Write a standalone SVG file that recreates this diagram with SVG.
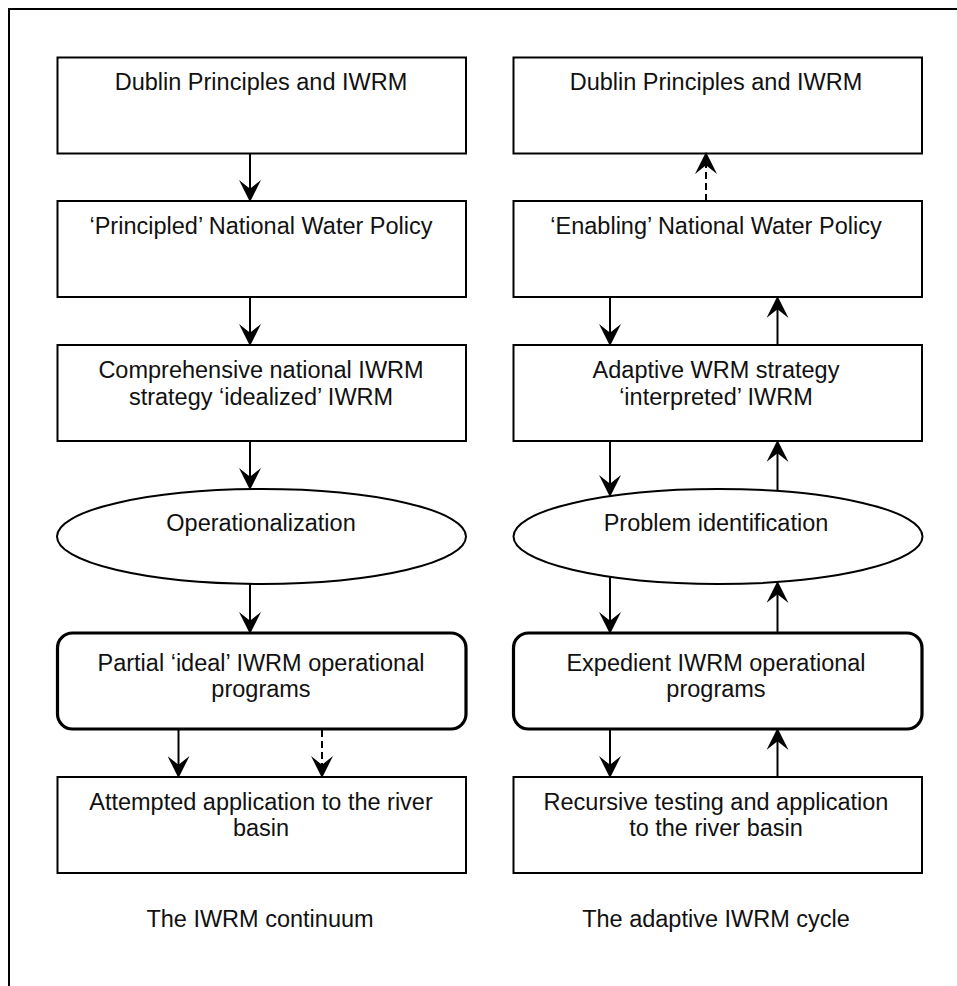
<svg xmlns="http://www.w3.org/2000/svg" width="957" height="986" viewBox="0 0 957 986">
  <style>
    .frame { fill: none; stroke: #000; stroke-width: 2; }
    .box { fill: #fff; stroke: #000; stroke-width: 2; }
    .prog { fill: #fff; stroke: #000; stroke-width: 3.2; }
    .oval { fill: #fff; stroke: #000; stroke-width: 2; }
    text { font-family: "Liberation Sans", Arial, sans-serif; font-size: 23.5px; fill: #111; text-anchor: middle; }
    .flow { stroke: #000; stroke-width: 2; fill: none; marker-end: url(#head); }
    .dash { stroke-dasharray: 7 4; }
  </style>
  <defs>
    <marker id="head" markerUnits="userSpaceOnUse" markerWidth="22" markerHeight="22" viewBox="0 0 20 20" refX="10" refY="10" orient="auto">
      <path d="M0,0 L20,10 L0,20 L8,10 Z" fill="#000" stroke="none"/>
    </marker>
  </defs>

  <rect width="957" height="986" fill="#fff"/>
  <!-- page frame (open to the right and bottom edges) -->
  <rect class="frame" x="9" y="9" width="1000" height="1000"/>

  <!-- left column: the continuum -->
  <g id="l-dublin">
    <rect class="box" x="57.5" y="57.5" width="408.5" height="96"/>
    <text x="261" y="89.5">Dublin Principles and IWRM</text>
  </g>
  <g id="l-policy">
    <rect class="box" x="57.5" y="201" width="408.5" height="96"/>
    <text x="261" y="234">‘Principled’ National Water Policy</text>
  </g>
  <g id="l-strategy">
    <rect class="box" x="57.5" y="345" width="408.5" height="96"/>
    <text x="261" y="377.5">Comprehensive national IWRM</text>
    <text x="261" y="405">strategy ‘idealized’ IWRM</text>
  </g>
  <g id="l-oper">
    <ellipse class="oval" cx="261.5" cy="536.5" rx="204.5" ry="47.5"/>
    <text x="261" y="531">Operationalization</text>
  </g>
  <g id="l-programs">
    <rect class="prog" x="57.5" y="633" width="408.5" height="96" rx="15" ry="15"/>
    <text x="261" y="671">Partial ‘ideal’ IWRM operational</text>
    <text x="261" y="697">programs</text>
  </g>
  <g id="l-apply">
    <rect class="box" x="57.5" y="777" width="408.5" height="96"/>
    <text x="261" y="810">Attempted application to the river</text>
    <text x="261" y="836">basin</text>
  </g>

  <!-- right column: the adaptive cycle -->
  <g id="r-dublin">
    <rect class="box" x="513.5" y="57.5" width="408.5" height="96"/>
    <text x="716" y="89.5">Dublin Principles and IWRM</text>
  </g>
  <g id="r-policy">
    <rect class="box" x="513.5" y="201" width="408.5" height="96"/>
    <text x="716" y="234">‘Enabling’ National Water Policy</text>
  </g>
  <g id="r-strategy">
    <rect class="box" x="513.5" y="345" width="408.5" height="96"/>
    <text x="716" y="377.5">Adaptive WRM strategy</text>
    <text x="716" y="405">‘interpreted’ IWRM</text>
  </g>
  <g id="r-problem">
    <ellipse class="oval" cx="718" cy="536.5" rx="204.5" ry="47.5"/>
    <text x="716" y="531">Problem identification</text>
  </g>
  <g id="r-programs">
    <rect class="prog" x="513.5" y="633" width="408.5" height="96" rx="15" ry="15"/>
    <text x="716" y="671">Expedient IWRM operational</text>
    <text x="716" y="697">programs</text>
  </g>
  <g id="r-testing">
    <rect class="box" x="513.5" y="777" width="408.5" height="96"/>
    <text x="716" y="810">Recursive testing and application</text>
    <text x="716" y="836">to the river basin</text>
  </g>

  <!-- captions -->
  <g id="captions">
    <text x="260" y="927">The IWRM continuum</text>
    <text x="716" y="927">The adaptive IWRM cycle</text>
  </g>

  <!-- connectors -->
  <g id="connectors">
    <line class="flow" x1="250" y1="154" x2="250" y2="191"/>
    <line class="flow" x1="250" y1="298" x2="250" y2="335"/>
    <line class="flow" x1="250" y1="442" x2="250" y2="479"/>
    <line class="flow" x1="250" y1="584" x2="250" y2="623"/>
    <line class="flow" x1="178.5" y1="730" x2="178.5" y2="767"/>
    <line class="flow dash" x1="322" y1="730" x2="322" y2="767"/>

    <line class="flow dash" x1="706" y1="201" x2="706" y2="163"/>
    <line class="flow" x1="610" y1="298" x2="610" y2="335"/>
    <line class="flow" x1="777.5" y1="345" x2="777.5" y2="307"/>
    <line class="flow" x1="610" y1="442" x2="610" y2="486"/>
    <line class="flow" x1="777.5" y1="491" x2="777.5" y2="451"/>
    <line class="flow" x1="610" y1="577" x2="610" y2="623"/>
    <line class="flow" x1="777.5" y1="633" x2="777.5" y2="592"/>
    <line class="flow" x1="610" y1="730" x2="610" y2="767"/>
    <line class="flow" x1="777.5" y1="777" x2="777.5" y2="739"/>
  </g>
</svg>
